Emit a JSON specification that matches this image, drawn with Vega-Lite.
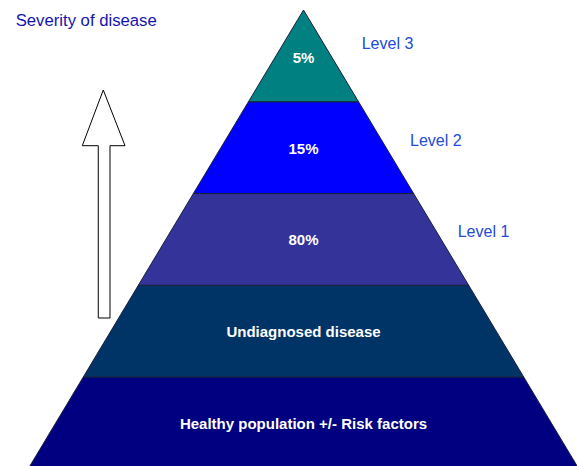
{
  "$schema": "https://vega.github.io/schema/vega-lite/v6.json",
  "width": 577,
  "height": 466,
  "autosize": {"type": "none"},
  "padding": 0,
  "background": "white",
  "config": {"view": {"stroke": null}},
  "datasets": {
    "pyramid": [
      {"layer": "Healthy population", "level": 0, "left": -5, "right": 5},
      {"layer": "Healthy population", "level": 1, "left": -4, "right": 4},
      {"layer": "Undiagnosed disease", "level": 1, "left": -4, "right": 4},
      {"layer": "Undiagnosed disease", "level": 2, "left": -3, "right": 3},
      {"layer": "Level 1", "level": 2, "left": -3, "right": 3},
      {"layer": "Level 1", "level": 3, "left": -2, "right": 2},
      {"layer": "Level 2", "level": 3, "left": -2, "right": 2},
      {"layer": "Level 2", "level": 4, "left": -1, "right": 1},
      {"layer": "Level 3", "level": 4, "left": -1, "right": 1},
      {"layer": "Level 3", "level": 5, "left": 0, "right": 0}
    ],
    "arrow": [
      {"seq": 1, "level": 1.643, "x": -3.728},
      {"seq": 2, "level": 3.521, "x": -3.728},
      {"seq": 3, "level": 3.521, "x": -4.018},
      {"seq": 4, "level": 4.128, "x": -3.637},
      {"seq": 5, "level": 3.521, "x": -3.242},
      {"seq": 6, "level": 3.521, "x": -3.515},
      {"seq": 7, "level": 1.643, "x": -3.515},
      {"seq": 8, "level": 1.643, "x": -3.728}
    ],
    "title": [
      {"label": "Severity of disease", "x": -5.228, "y": 4.826}
    ],
    "levels": [
      {"label": "Level 3", "x": 1.057, "y": 4.572},
      {"label": "Level 2", "x": 1.935, "y": 3.518},
      {"label": "Level 1", "x": 2.801, "y": 2.529}
    ],
    "inner": [
      {"label": "5%", "x": 0, "y": 4.426},
      {"label": "15%", "x": 0, "y": 3.427},
      {"label": "80%", "x": 0, "y": 2.439},
      {"label": "Undiagnosed disease", "x": 0, "y": 1.439},
      {"label": "Healthy population +/- Risk factors", "x": 0, "y": 0.433}
    ]
  },
  "layer": [
    {
      "data": {"name": "pyramid"},
      "mark": {"type": "area", "orient": "horizontal", "interpolate": "linear", "stroke": "#16203a", "strokeWidth": 1, "fillOpacity": 1},
      "encoding": {
        "y": {"field": "level", "type": "quantitative", "scale": {"domain": [0.03, 5.109], "nice": false, "zero": false}, "axis": null},
        "x": {"field": "left", "type": "quantitative", "scale": {"domain": [-5.513, 4.968], "nice": false, "zero": false}, "axis": null},
        "x2": {"field": "right"},
        "color": {"field": "layer", "type": "nominal", "legend": null,
          "scale": {"domain": ["Healthy population", "Undiagnosed disease", "Level 1", "Level 2", "Level 3"],
                    "range": ["#000080", "#003366", "#333399", "#0000ff", "#008080"]}}
      }
    },
    {
      "data": {"name": "arrow"},
      "mark": {"type": "line", "interpolate": "linear", "fill": "white", "stroke": "#000000", "strokeWidth": 1},
      "encoding": {
        "y": {"field": "level", "type": "quantitative", "scale": {"domain": [0.03, 5.109], "nice": false, "zero": false}, "axis": null},
        "x": {"field": "x", "type": "quantitative", "scale": {"domain": [-5.513, 4.968], "nice": false, "zero": false}, "axis": null},
        "order": {"field": "seq", "type": "quantitative"}
      }
    },
    {
      "data": {"name": "title"},
      "mark": {"type": "text", "align": "left", "baseline": "alphabetic", "font": "Liberation Sans", "fontSize": 16.7, "color": "#1414b0"},
      "encoding": {
        "x": {"field": "x", "type": "quantitative"},
        "y": {"field": "y", "type": "quantitative"},
        "text": {"field": "label"}
      }
    },
    {
      "data": {"name": "levels"},
      "mark": {"type": "text", "align": "left", "baseline": "alphabetic", "font": "Liberation Sans", "fontSize": 16, "color": "#224bd6"},
      "encoding": {
        "x": {"field": "x", "type": "quantitative"},
        "y": {"field": "y", "type": "quantitative"},
        "text": {"field": "label"}
      }
    },
    {
      "data": {"name": "inner"},
      "mark": {"type": "text", "align": "center", "baseline": "alphabetic", "font": "Liberation Sans", "fontSize": 15, "fontWeight": "bold", "color": "#ffffff"},
      "encoding": {
        "x": {"field": "x", "type": "quantitative"},
        "y": {"field": "y", "type": "quantitative"},
        "text": {"field": "label"}
      }
    }
  ]
}
